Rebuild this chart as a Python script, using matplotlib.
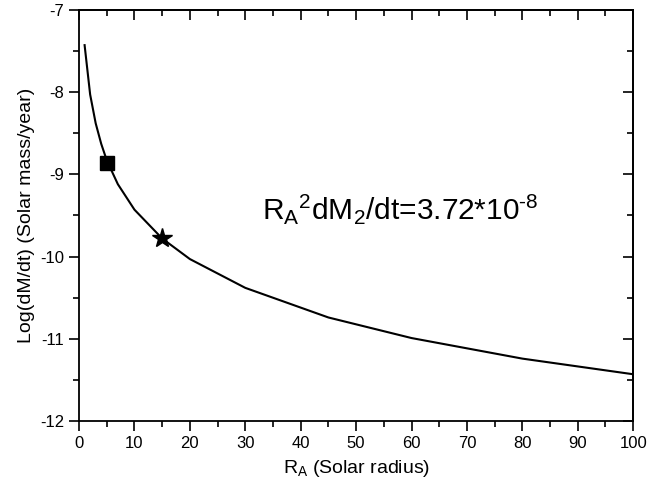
import numpy as np
import matplotlib
matplotlib.use("Agg")
from matplotlib import pyplot as plt
from matplotlib.ticker import MultipleLocator

plt.rcParams["font.family"] = ["Liberation Sans", "DejaVu Sans"]
plt.rcParams["mathtext.fontset"] = "custom"
plt.rcParams["mathtext.rm"] = "Liberation Sans"
plt.rcParams["mathtext.it"] = "Liberation Sans"
plt.rcParams["axes.unicode_minus"] = False

# curve
radius = [1, 2, 3, 4, 5, 7, 10, 15, 20, 30, 45, 60, 80, 100]
log_mdot = [-7.43, -8.03, -8.38, -8.63, -8.83, -9.12, -9.43, -9.78,
            -10.03, -10.38, -10.74, -10.99, -11.24, -11.43]

# marked points
square_r, square_m = [5], [-8.86]
star_r, star_m = [15], [-9.78]

fig = plt.figure(figsize=(6.7, 4.88), dpi=100)
ax = fig.add_axes([0.118, 0.137, 0.827, 0.843])

ax.plot(radius, log_mdot, color="black", lw=1.5)
ax.plot(square_r, square_m, "s", color="black", ms=10)
ax.plot(star_r, star_m, "*", color="black", ms=15)

ax.set_xlim(0, 100)
ax.set_ylim(-12, -7)
ax.xaxis.set_major_locator(MultipleLocator(10))
ax.xaxis.set_minor_locator(MultipleLocator(5))
ax.yaxis.set_major_locator(MultipleLocator(1))
ax.yaxis.set_minor_locator(MultipleLocator(0.5))

# outward ticks on bottom/left, inward on top/right
ax.tick_params(which="both", direction="out", labelsize=12, width=1.2)
ax.tick_params(which="major", length=7)
ax.tick_params(which="minor", length=4)
sec_x = ax.secondary_xaxis("top")
sec_x.xaxis.set_major_locator(MultipleLocator(10))
sec_x.xaxis.set_minor_locator(MultipleLocator(5))
sec_x.tick_params(which="both", direction="in", labeltop=False, width=1.2)
sec_x.tick_params(which="major", length=7)
sec_x.tick_params(which="minor", length=4)
sec_y = ax.secondary_yaxis("right")
sec_y.yaxis.set_major_locator(MultipleLocator(1))
sec_y.yaxis.set_minor_locator(MultipleLocator(0.5))
sec_y.tick_params(which="both", direction="in", labelright=False, width=1.2)
sec_y.tick_params(which="major", length=7)
sec_y.tick_params(which="minor", length=4)

for sp in list(ax.spines.values()) + [sec_x.spines["top"], sec_y.spines["right"]]:
    sp.set_linewidth(1.3)

ax.set_xlabel(r"R$_\mathregular{A}$ (Solar radius)", fontsize=14, labelpad=5)
ax.set_ylabel("Log(dM/dt) (Solar mass/year)", fontsize=14, labelpad=4)

ax.text(33, -9.55,
        r"R$_\mathregular{A}$$^\mathregular{2}$dM$_\mathregular{2}$/dt=3.72*10$^\mathregular{\text{-}8}$",
        fontsize=21.5, color="black")

fig.savefig("out.png", dpi=100)
